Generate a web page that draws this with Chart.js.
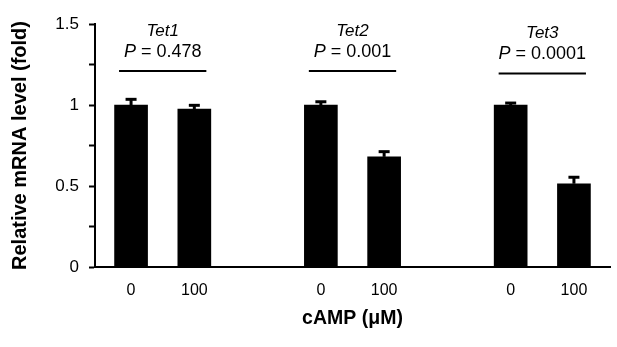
<!DOCTYPE html>
<html>
<head>
<meta charset="utf-8">
<script src="https://cdn.jsdelivr.net/npm/chart.js@4.4.0/dist/chart.umd.min.js"></script>
<style>
  html, body { margin: 0; padding: 0; background: #fff; }
  #wrap { width: 617px; height: 347px; }
</style>
</head>
<body>
<div id="wrap"><canvas id="chart"></canvas></div>
<script>
// Tet1/2/3 mRNA after cAMP — bars with upper error bars and P-value brackets.
const genes = ['Tet1', 'Tet2', 'Tet3'];
const pValues = ['0.478', '0.001', '0.0001'];
const doseLabels = ['0', '100', '0', '100', '0', '100'];
const xPositions = [0, 1, 3, 4, 6, 7];
const means = [1.0, 0.975, 1.0, 0.68, 1.0, 0.514];
const errors = [0.035, 0.023, 0.02, 0.032, 0.012, 0.04];
const bracketLevels = [1.21, 1.21, 1.195];

const FONT = 'Liberation Sans, Arial, sans-serif';

const annotations = {
  id: 'annotations',
  afterDatasetsDraw(chart) {
    const { ctx, scales: { x, y } } = chart;
    ctx.save();
    ctx.strokeStyle = '#000';
    ctx.fillStyle = '#000';

    // upper error bars
    means.forEach((m, i) => {
      const px = x.getPixelForValue(xPositions[i]);
      const top = y.getPixelForValue(m + errors[i]);
      const base = y.getPixelForValue(m);
      ctx.lineWidth = 3;
      ctx.beginPath();
      ctx.moveTo(px, base);
      ctx.lineTo(px, top);
      ctx.stroke();
      ctx.beginPath();
      ctx.moveTo(px - 5.5, top);
      ctx.lineTo(px + 5.5, top);
      ctx.stroke();
    });

    // brackets + gene / P labels
    genes.forEach((g, k) => {
      const c = (xPositions[2 * k] + xPositions[2 * k + 1]) / 2;
      const x0 = x.getPixelForValue(c - 0.69);
      const x1 = x.getPixelForValue(c + 0.69);
      const cx = x.getPixelForValue(c);
      const by = y.getPixelForValue(bracketLevels[k]);
      ctx.lineWidth = 2;
      ctx.beginPath();
      ctx.moveTo(x0, by);
      ctx.lineTo(x1, by);
      ctx.stroke();

      ctx.textBaseline = 'alphabetic';
      ctx.textAlign = 'center';
      ctx.font = 'italic 17px ' + FONT;
      ctx.fillText(g, cx, by - 35);

      ctx.textAlign = 'left';
      ctx.font = 'italic 18px ' + FONT;
      const wP = ctx.measureText('P').width;
      ctx.font = '18px ' + FONT;
      const rest = ' = ' + pValues[k];
      const wR = ctx.measureText(rest).width;
      const sx = cx - (wP + wR) / 2;
      ctx.font = 'italic 18px ' + FONT;
      ctx.fillText('P', sx, by - 14);
      ctx.font = '18px ' + FONT;
      ctx.fillText(rest, sx + wP, by - 14);
    });
    ctx.restore();
  }
};

new Chart(document.getElementById('chart').getContext('2d'), {
  type: 'bar',
  data: {
    datasets: [{
      data: means.map((m, i) => ({ x: xPositions[i], y: m })),
      backgroundColor: '#000',
      borderWidth: 0,
      barThickness: 33,
    }],
  },
  plugins: [annotations],
  options: {
    responsive: true, maintainAspectRatio: false, animation: false,
    layout: { padding: { left: 0, right: 7, top: 24, bottom: 0 } },
    plugins: { legend: { display: false }, tooltip: { enabled: false } },
    scales: {
      x: {
        type: 'linear', min: -0.57, max: 7.57, offset: false,
        afterBuildTicks: s => { s.ticks = xPositions.map(v => ({ value: v })); },
        afterFit: s => { s.height = 80; },
        grid: { display: true, drawOnChartArea: false, drawTicks: false },
        border: { display: true, color: '#000', width: 2 },
        ticks: {
          autoSkip: false, maxRotation: 0, padding: 14, color: '#000',
          font: { family: FONT, size: 16 },
          callback: v => doseLabels[xPositions.indexOf(v)] ?? '',
        },
        title: {
          display: true, text: 'cAMP (μM)', color: '#000',
          font: { family: FONT, size: 19.5, weight: 'bold' },
          padding: { top: 0, bottom: 17 },
        },
      },
      y: {
        min: 0, max: 1.5,
        afterFit: s => { s.width = 95; },
        grid: { display: true, drawOnChartArea: false, drawTicks: true, tickLength: 6, tickColor: '#000', tickWidth: 2 },
        border: { display: true, color: '#000', width: 2 },
        ticks: {
          stepSize: 0.25, padding: 10, color: '#000',
          font: { family: FONT, size: 17 },
          callback: v => (Math.abs(v * 2 - Math.round(v * 2)) < 1e-9 ? String(v) : ''),
        },
        title: {
          display: true, text: 'Relative mRNA level (fold)', color: '#000',
          font: { family: FONT, size: 20, weight: 'bold' },
          padding: { top: 8, bottom: 0 },
        },
      },
    },
  },
});
</script>
</body>
</html>
